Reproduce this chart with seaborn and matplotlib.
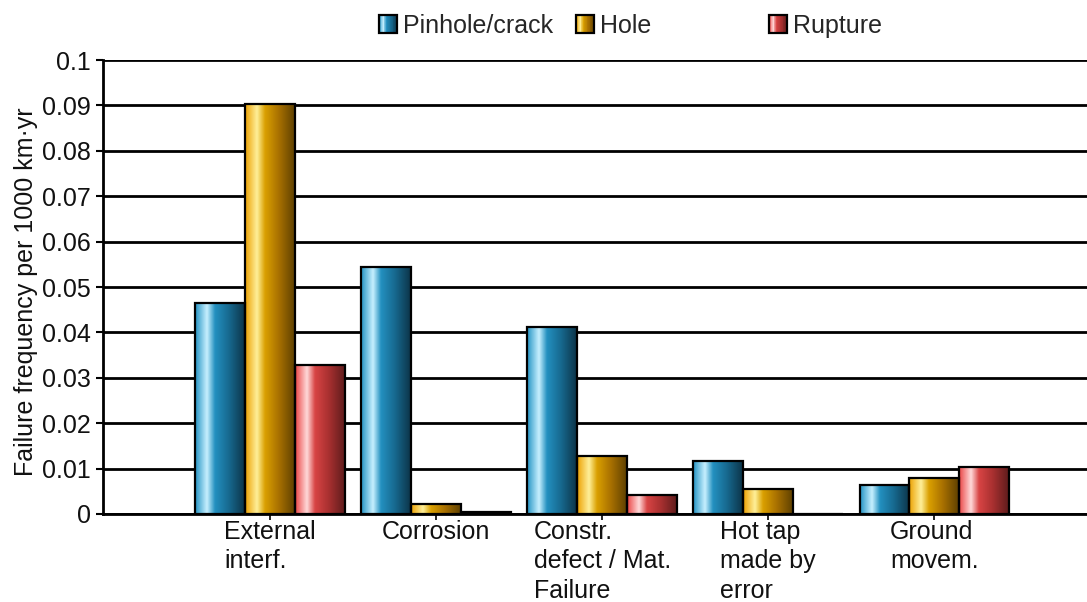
import numpy as np
import pandas as pd
import matplotlib
matplotlib.use("Agg")
import matplotlib.pyplot as plt
import seaborn as sns
from matplotlib.colors import LinearSegmentedColormap
from matplotlib.legend_handler import HandlerBase
from matplotlib.patches import Rectangle

# ---- data -------------------------------------------------------------
categories = ["External\ninterf.", "Corrosion", "Constr.\ndefect / Mat.\nFailure",
              "Hot tap\nmade by\nerror", "Ground\nmovem."]
failure_modes = ["Pinhole/crack", "Hole", "Rupture"]
pinhole_crack = [0.0465, 0.0543, 0.0412, 0.0116, 0.0063]
hole = [0.0903, 0.0021, 0.0128, 0.0054, 0.0080]
rupture = [0.0329, 0.0005, 0.0042, 0.0, 0.0103]
ytick_values = [0, 0.01, 0.02, 0.03, 0.04, 0.05, 0.06, 0.07, 0.08, 0.09, 0.1]
ytick_labels = ["0", "0.01", "0.02", "0.03", "0.04", "0.05", "0.06", "0.07", "0.08", "0.09", "0.1"]

df = pd.DataFrame({
    "cause": np.repeat(categories, len(failure_modes)),
    "mode": failure_modes * len(categories),
    "freq": np.ravel(np.column_stack([pinhole_crack, hole, rupture])),
})

# ---- cylinder-style shading per series ------------------------------------
stops = {
    "Pinhole/crack": ["#2293c4", "#c8f0ff", "#2390c0", "#17698f", "#0c3448"],
    "Hole": ["#eca000", "#fff09a", "#daa000", "#a87000", "#5e4000"],
    "Rupture": ["#ea4444", "#ffdada", "#d84444", "#a83030", "#5e1c1c"],
}
positions = [0.0, 0.24, 0.40, 0.68, 1.0]
cmaps = {k: LinearSegmentedColormap.from_list(k, list(zip(positions, v)))
         for k, v in stops.items()}
base_colors = {k: v[2] for k, v in stops.items()}

FS = 18

sns.set_theme(style="white")
plt.rcParams["font.family"] = ["Liberation Sans", "DejaVu Sans"]
plt.rcParams["font.size"] = FS

fig = plt.figure(figsize=(10.87, 6.02), dpi=100)
ax = fig.add_axes([0.0948, 0.1462, 0.9052, 0.7541])

sns.barplot(data=df, x="cause", y="freq", hue="mode", order=categories,
            hue_order=failure_modes, palette=base_colors, width=0.9,
            edgecolor="black", linewidth=1.6, legend=False, ax=ax)

ax.set_xlim(-1.006, 4.92)
ax.set_ylim(0, 0.1)
xlim, ylim = ax.get_xlim(), ax.get_ylim()

grad = np.linspace(0, 1, 256)
for mode, container in zip(failure_modes, ax.containers):
    rgba = cmaps[mode](grad)[np.newaxis, :, :]
    for bar in container:
        h = bar.get_height()
        bar.set_zorder(3)
        if h <= 0:
            continue
        x0, w = bar.get_x(), bar.get_width()
        bar.set_facecolor("none")
        im = ax.imshow(rgba, extent=[x0, x0 + w, 0, h], aspect="auto",
                       interpolation="bicubic", zorder=2.5)
        im.set_clip_path(bar)

ax.set_xlim(xlim)
ax.set_ylim(ylim)

# ---- axes styling ---------------------------------------------------------
ax.set_axisbelow(True)
ax.yaxis.grid(True, color="black", linewidth=2.0)
ax.xaxis.grid(False)
ax.set_yticks(ytick_values)
ax.set_yticklabels(ytick_labels, fontsize=FS)
for s in ["top", "right"]:
    ax.spines[s].set_visible(False)
for s in ["left", "bottom"]:
    ax.spines[s].set_color("black")
    ax.spines[s].set_linewidth(2.0)
ax.tick_params(axis="y", which="major", left=True, length=5, width=1.5,
               color="black", pad=4, labelcolor="#111111")
ax.tick_params(axis="x", which="major", bottom=True, length=4, width=1.2,
               color="black", pad=0, labelcolor="#111111")
for lbl in ax.get_xticklabels():
    lbl.set_fontsize(FS)
    lbl.set_horizontalalignment("center")
    lbl.set_multialignment("left")
    lbl.set_linespacing(1.29)
    lbl.set_verticalalignment("top")
ax.set_xlabel("")
ax.set_ylabel("Failure frequency per 1000 km\u00b7yr", fontsize=FS,
              color="#111111")
ax.yaxis.set_label_coords(-0.066, 0.49)


# ---- legend with shaded swatches ---------------------------------------------
class GradientSwatch(HandlerBase):
    def __init__(self, cmap, n=24):
        super().__init__()
        self.cmap = cmap
        self.n = n

    def create_artists(self, legend, orig_handle, xdescent, ydescent,
                       width, height, fontsize, trans):
        size = min(width, height)
        x0, y0 = -xdescent, -ydescent + (height - size) / 2
        step = size / self.n
        artists = []
        for i in range(self.n):
            r = Rectangle((x0 + i * step, y0), step * 1.05, size,
                          facecolor=self.cmap((i + 0.5) / self.n),
                          edgecolor="none", transform=trans)
            artists.append(r)
        artists.append(Rectangle((x0, y0), size, size, facecolor="none",
                                 edgecolor="black", linewidth=1.6, transform=trans))
        return artists


legend_x = {"Pinhole/crack": 379 / 1087, "Hole": 576 / 1087, "Rupture": 769 / 1087}
for mode in failure_modes:
    handle = Rectangle((0, 0), 1, 1)
    fig.legend([handle], [mode], handler_map={handle: GradientSwatch(cmaps[mode])},
               loc="center left", bbox_to_anchor=(legend_x[mode], 1 - 26 / 602),
               frameon=False, fontsize=FS, handlelength=0.75, handleheight=0.75,
               handletextpad=0.2, borderpad=0, borderaxespad=0)

fig.savefig("out.png", dpi=100)
